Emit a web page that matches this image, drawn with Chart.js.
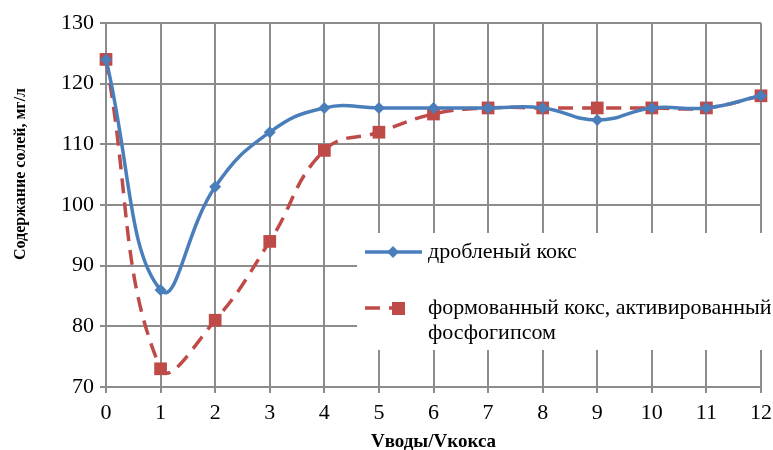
<!DOCTYPE html>
<html>
<head>
<meta charset="utf-8">
<script src="https://cdn.jsdelivr.net/npm/chart.js@4/dist/chart.umd.min.js"></script>
<style>
  html, body { margin: 0; padding: 0; background: #fff; }
  #wrap { width: 773px; height: 450px; }
</style>
</head>
<body>
<div id="wrap"><canvas id="saltChart" width="773" height="450"></canvas></div>
<script>
// data
const ratios = ['0', '1', '2', '3', '4', '5', '6', '7', '8', '9', '10', '11', '12'];
const crushedCoke = [124, 86, 103, 112, 116, 116, 116, 116, 116, 114, 116, 116, 118];
const formedCoke = [124, 73, 81, 94, 109, 112, 115, 116, 116, 116, 116, 116, 118];
const seriesNames = ['дробленый кокс', 'формованный кокс, активированный фосфогипсом'];
const yTitle = 'Содержание солей, мг/л';
const xTitle = 'Vводы/Vкокса';

const serif = '"Liberation Serif", "Times New Roman", serif';
const gridColor = '#8c8c8c';
const blue = '#4a7ebb';
const red = '#be4b48';

// legend box sits over the grid, like in the original
const boxLegend = {
    id: 'boxLegend',
    afterDraw(chart) {
        const c = chart.ctx;
        c.save();
        c.fillStyle = '#fff';
        c.fillRect(357, 233, 416, 117);

        c.font = '22px ' + serif;
        c.textBaseline = 'middle';

        // item 1
        c.strokeStyle = blue;
        c.lineWidth = 3.5;
        c.beginPath(); c.moveTo(365, 252); c.lineTo(422, 252); c.stroke();
        c.fillStyle = blue;
        c.beginPath();
        c.moveTo(393, 246); c.lineTo(399, 252); c.lineTo(393, 258); c.lineTo(387, 252); c.closePath();
        c.fill();
        c.fillStyle = '#000';
        c.fillText(seriesNames[0], 428, 252);

        // item 2
        c.strokeStyle = red;
        c.setLineDash([15, 9]);
        c.beginPath(); c.moveTo(365, 308); c.lineTo(410, 308); c.stroke();
        c.setLineDash([]);
        c.fillStyle = red;
        c.fillRect(392, 302, 13, 13);
        c.fillStyle = '#000';
        c.fillText('формованный кокс, активированный', 428, 308);
        c.fillText('фосфогипсом', 428, 333);

        // y axis title
        c.translate(21, 174);
        c.rotate(-Math.PI / 2);
        c.textAlign = 'center';
        c.font = 'bold 16px ' + serif;
        c.fillText(yTitle, 0, 0);
        c.restore();
    }
};

const ctx = document.getElementById('saltChart').getContext('2d');

const saltChart = new Chart(ctx, {
    type: 'line',
    data: {
        labels: ratios,
        datasets: [{
            label: seriesNames[0],
            data: crushedCoke,
            borderColor: blue,
            backgroundColor: blue,
            borderWidth: 3.5,
            pointStyle: 'rectRot',
            pointRadius: 6,
            pointBorderWidth: 0,
            tension: 0.45
        }, {
            label: seriesNames[1],
            data: formedCoke,
            borderColor: red,
            backgroundColor: red,
            borderWidth: 3.5,
            borderDash: [15, 9],
            pointStyle: 'rect',
            pointRadius: 9,
            pointBorderWidth: 0,
            tension: 0.45
        }]
    },
    options: {
        responsive: false,
        animation: false,
        layout: { padding: { top: 23, right: 12, left: 0, bottom: 0 } },
        plugins: {
            legend: { display: false },
            tooltip: { enabled: false }
        },
        scales: {
            x: {
                offset: false,
                grid: { color: gridColor, lineWidth: 2, tickLength: 6, tickColor: gridColor },
                border: { color: gridColor, width: 2 },
                ticks: { color: '#000', font: { family: serif, size: 22 }, padding: 7, maxRotation: 0 },
                title: { display: true, text: xTitle, color: '#000', font: { family: serif, size: 19, weight: 'bold' }, padding: { top: 0, bottom: -3 } },
                afterFit(scale) {
                    scale.height = 63;
                    scale.paddingLeft = 0;
                    scale.paddingRight = 0;
                }
            },
            y: {
                min: 70,
                max: 130,
                ticks: { stepSize: 10, color: '#000', font: { family: serif, size: 22 }, padding: 6 },
                grid: { color: gridColor, lineWidth: 2, tickLength: 6, tickColor: gridColor },
                border: { color: gridColor, width: 2 },
                afterFit(scale) {
                    scale.width = 106;
                    scale.paddingTop = 0;
                    scale.paddingBottom = 0;
                }
            }
        }
    },
    plugins: [boxLegend]
});
</script>
</body>
</html>
